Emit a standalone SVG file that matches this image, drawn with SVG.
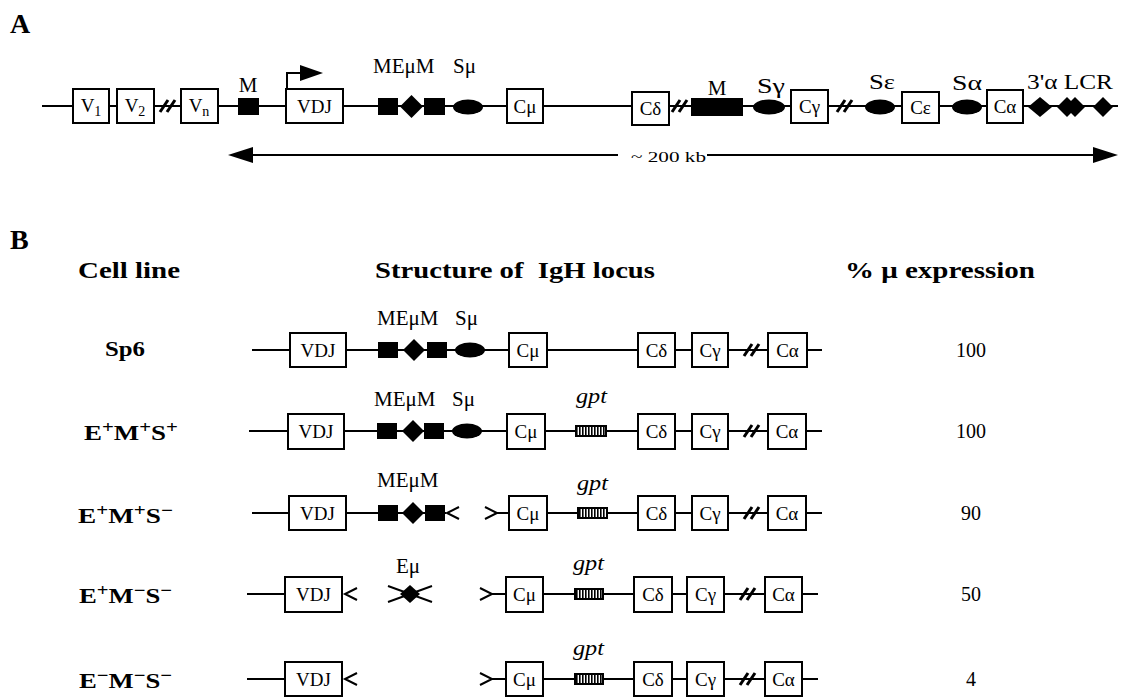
<svg xmlns="http://www.w3.org/2000/svg" width="1126" height="697" viewBox="0 0 1126 697" font-family="'Liberation Serif', 'DejaVu Serif', 'Times New Roman', serif">
  <style>
    text { font-family: 'Liberation Serif', 'DejaVu Serif', 'Times New Roman', serif; fill: #000; }
    .panel { font-size: 28px; font-weight: bold; }
    .head { font-size: 24px; font-weight: bold; }
    .lbl { font-size: 21px; }
    .box-t { font-size: 19px; text-anchor: middle; }
    .cell { font-size: 22px; font-weight: bold; }
    .pct { font-size: 20px; text-anchor: middle; }
    .gpt { font-size: 22px; font-style: italic; }
    .small { font-size: 15px; }
    .dna { stroke: #000; stroke-width: 2; fill: none; }
    .box { fill: #fff; stroke: #000; stroke-width: 2; }
    .solid { fill: #000; stroke: none; }
    .brk { stroke: #000; stroke-width: 3; }
    .end { stroke: #000; stroke-width: 2; fill: none; }
    .hatch { fill: url(#stripes); stroke: #000; stroke-width: 2; }
  </style>
  <defs>
    <pattern id="stripes" width="3" height="10" patternUnits="userSpaceOnUse">
      <rect width="3" height="10" fill="#fff"/>
      <rect width="1.6" height="10" fill="#000"/>
    </pattern>
    <!-- "//" break in the locus -->
    <g id="break">
      <line class="brk" x1="0" y1="6" x2="8" y2="-6"/>
      <line class="brk" x1="7" y1="6" x2="15" y2="-6"/>
    </g>
  </defs>

  <!-- ===== Panel A: germline IgH locus ===== -->
  <text class="panel" x="10" y="33">A</text>

  <g id="connectors">
    <line class="dna" x1="42" y1="106" x2="1118" y2="106"/>
    <!-- ~200 kb span -->
    <line class="dna" x1="245" y1="155" x2="618" y2="155"/>
    <line class="dna" x1="707" y1="155" x2="1100" y2="155"/>
    <polygon class="solid" points="228,155 253,147 253,163"/>
    <polygon class="solid" points="1118,155 1093,147 1093,163"/>
    <!-- transcription start -->
    <polyline class="dna" points="287,89 287,73 302,73"/>
    <polygon class="solid" points="300,65 323,73 300,81"/>
  </g>
  <text class="small" x="631" y="162" textLength="75" lengthAdjust="spacingAndGlyphs">~ 200 kb</text>

  <g id="a-V1"><rect class="box" x="73" y="89" width="36" height="34"/><text class="box-t" x="91" y="112">V<tspan font-size="14" dy="4">1</tspan></text></g>
  <g id="a-V2"><rect class="box" x="117" y="89" width="37" height="34"/><text class="box-t" x="135" y="112">V<tspan font-size="14" dy="4">2</tspan></text></g>
  <use href="#break" x="160" y="106"/>
  <g id="a-Vn"><rect class="box" x="181" y="89" width="37" height="34"/><text class="box-t" x="199" y="112">V<tspan font-size="14" dy="4">n</tspan></text></g>
  <g id="a-M1"><rect class="solid" x="238" y="98" width="21" height="17"/><text class="lbl" x="248" y="92" text-anchor="middle">M</text></g>
  <g id="a-VDJ"><rect class="box" x="286" y="89" width="57" height="34"/><text class="box-t" x="314.5" y="113" font-size="20">VDJ</text></g>
  <g id="a-MEuM">
    <rect class="solid" x="378" y="98" width="20" height="17"/>
    <polygon class="solid" points="400,106.5 411.5,95 423,106.5 411.5,118"/>
    <rect class="solid" x="424" y="98" width="21" height="17"/>
    <text class="lbl" x="373" y="73">MEμM</text>
  </g>
  <g id="a-Smu"><ellipse class="solid" cx="468" cy="107" rx="15" ry="7.5"/><text class="lbl" x="453" y="73">Sμ</text></g>
  <g id="a-Cmu"><rect class="box" x="507" y="89" width="36" height="34"/><text class="box-t" x="525" y="113">Cμ</text></g>
  <g id="a-Cdelta"><rect class="box" x="632" y="92" width="37" height="33"/><text class="box-t" x="650.5" y="115">Cδ</text></g>
  <use href="#break" x="672" y="106"/>
  <g id="a-M2"><rect class="solid" x="691" y="98" width="52" height="18"/><text class="lbl" x="717" y="95" text-anchor="middle">M</text></g>
  <g id="a-Sgamma"><ellipse class="solid" cx="769" cy="107" rx="16" ry="7.5"/><text class="lbl" x="757" y="93" textLength="28" lengthAdjust="spacingAndGlyphs">Sγ</text></g>
  <g id="a-Cgamma"><rect class="box" x="791" y="90" width="37" height="33"/><text class="box-t" x="809.5" y="113">Cγ</text></g>
  <use href="#break" x="837" y="106"/>
  <g id="a-Seps"><ellipse class="solid" cx="880" cy="107" rx="15" ry="7.5"/><text class="lbl" x="869" y="89" textLength="26" lengthAdjust="spacingAndGlyphs">Sε</text></g>
  <g id="a-Ceps"><rect class="box" x="902" y="92" width="37" height="31"/><text class="box-t" x="920.5" y="114">Cε</text></g>
  <g id="a-Salpha"><ellipse class="solid" cx="967" cy="107" rx="15" ry="7.5"/><text class="lbl" x="952" y="90" textLength="30" lengthAdjust="spacingAndGlyphs">Sα</text></g>
  <g id="a-Calpha"><rect class="box" x="987" y="90" width="36" height="33"/><text class="box-t" x="1005" y="113">Cα</text></g>
  <g id="a-LCR">
    <polygon class="solid" points="1028,107 1040,97 1052,107 1040,117"/>
    <polygon class="solid" points="1057,107 1067,97 1077,107 1067,117"/>
    <polygon class="solid" points="1065,107 1075,97 1085,107 1075,117"/>
    <polygon class="solid" points="1093,107 1103,97 1113,107 1103,117"/>
    <text class="lbl" x="1027" y="89" textLength="86" lengthAdjust="spacingAndGlyphs">3'α LCR</text>
  </g>

  <!-- ===== Panel B: targeted alleles ===== -->
  <text class="panel" x="10" y="249">B</text>
  <text class="head" x="78" y="278" textLength="102" lengthAdjust="spacingAndGlyphs">Cell line</text>
  <text class="head" x="375" y="278" xml:space="preserve" textLength="280" lengthAdjust="spacingAndGlyphs">Structure of  IgH locus</text>
  <text class="head" x="845" y="278" textLength="190" lengthAdjust="spacingAndGlyphs">% μ expression</text>

  <!-- Sp6 -->
  <g id="row-Sp6">
    <line class="dna" x1="252" y1="350" x2="822" y2="350"/>
    <text class="cell" x="105" y="356" textLength="40" lengthAdjust="spacingAndGlyphs">Sp6</text>
    <rect class="box" x="290" y="333" width="56" height="34"/><text class="box-t" x="318" y="357" font-size="20">VDJ</text>
    <rect class="solid" x="378" y="342" width="20" height="16"/>
    <polygon class="solid" points="403,350 414,339 425,350 414,361"/>
    <rect class="solid" x="427" y="342" width="20" height="16"/>
    <ellipse class="solid" cx="470" cy="350" rx="15" ry="7.5"/>
    <text class="lbl" x="377" y="325">MEμM</text><text class="lbl" x="455" y="325">Sμ</text>
    <rect class="box" x="509" y="333" width="38" height="34"/><text class="box-t" x="528" y="357">Cμ</text>
    <rect class="box" x="638" y="333" width="37" height="34"/><text class="box-t" x="656.5" y="357">Cδ</text>
    <rect class="box" x="692" y="333" width="36" height="34"/><text class="box-t" x="710" y="357">Cγ</text>
    <use href="#break" x="744" y="350"/>
    <rect class="box" x="768" y="333" width="39" height="34"/><text class="box-t" x="787.5" y="357">Cα</text>
    <text class="pct" x="971" y="357">100</text>
  </g>

  <!-- E+M+S+ -->
  <g id="row-EMS-ppp">
    <line class="dna" x1="249" y1="431" x2="822" y2="431"/>
    <text class="cell" x="84" y="440" textLength="94" lengthAdjust="spacingAndGlyphs">E<tspan font-size="17" dy="-7">+</tspan><tspan dy="7">M</tspan><tspan font-size="17" dy="-7">+</tspan><tspan dy="7">S</tspan><tspan font-size="17" dy="-7">+</tspan></text>
    <rect class="box" x="288" y="414" width="56" height="35"/><text class="box-t" x="316" y="438" font-size="20">VDJ</text>
    <rect class="solid" x="377" y="423" width="20" height="16"/>
    <polygon class="solid" points="402,431 413,420 424,431 413,442"/>
    <rect class="solid" x="424" y="423" width="20" height="16"/>
    <ellipse class="solid" cx="467" cy="431" rx="15" ry="7.5"/>
    <text class="lbl" x="374" y="406">MEμM</text><text class="lbl" x="452" y="406">Sμ</text>
    <rect class="box" x="507" y="414" width="38" height="35"/><text class="box-t" x="526" y="438">Cμ</text>
    <rect class="hatch" x="576" y="426" width="30" height="10"/>
    <text class="gpt" x="576" y="403" textLength="31" lengthAdjust="spacingAndGlyphs">gpt</text>
    <rect class="box" x="638" y="414" width="37" height="35"/><text class="box-t" x="656.5" y="438">Cδ</text>
    <rect class="box" x="692" y="414" width="36" height="35"/><text class="box-t" x="710" y="438">Cγ</text>
    <use href="#break" x="744" y="431"/>
    <rect class="box" x="768" y="414" width="38" height="35"/><text class="box-t" x="787" y="438">Cα</text>
    <text class="pct" x="971" y="438">100</text>
  </g>

  <!-- E+M+S- -->
  <g id="row-EMS-ppm">
    <line class="dna" x1="252" y1="513" x2="446" y2="513"/>
    <line class="dna" x1="496" y1="513" x2="822" y2="513"/>
    <text class="cell" x="78" y="523" textLength="95" lengthAdjust="spacingAndGlyphs">E<tspan font-size="17" dy="-7">+</tspan><tspan dy="7">M</tspan><tspan font-size="17" dy="-7">+</tspan><tspan dy="7">S</tspan><tspan font-size="17" dy="-7">−</tspan></text>
    <rect class="box" x="289" y="496" width="57" height="34"/><text class="box-t" x="317.5" y="520" font-size="20">VDJ</text>
    <rect class="solid" x="378" y="505" width="20" height="16"/>
    <polygon class="solid" points="402,513 413,502 424,513 413,524"/>
    <rect class="solid" x="425" y="505" width="20" height="16"/>
    <polyline class="end" points="459,507 447,513 459,519"/>
    <polyline class="end" points="485,507 497,513 485,519"/>
    <text class="lbl" x="377" y="487">MEμM</text>
    <rect class="box" x="509" y="496" width="38" height="34"/><text class="box-t" x="528" y="520">Cμ</text>
    <rect class="hatch" x="578" y="508" width="29" height="10"/>
    <text class="gpt" x="577" y="490" textLength="31" lengthAdjust="spacingAndGlyphs">gpt</text>
    <rect class="box" x="638" y="496" width="37" height="34"/><text class="box-t" x="656.5" y="520">Cδ</text>
    <rect class="box" x="692" y="496" width="36" height="34"/><text class="box-t" x="710" y="520">Cγ</text>
    <use href="#break" x="744" y="513"/>
    <rect class="box" x="768" y="496" width="38" height="34"/><text class="box-t" x="787" y="520">Cα</text>
    <text class="pct" x="971" y="520">90</text>
  </g>

  <!-- E+M-S- -->
  <g id="row-EMS-pmm">
    <line class="dna" x1="247" y1="594" x2="343" y2="594"/>
    <line class="dna" x1="492" y1="594" x2="818" y2="594"/>
    <text class="cell" x="79" y="603" textLength="93" lengthAdjust="spacingAndGlyphs">E<tspan font-size="17" dy="-7">+</tspan><tspan dy="7">M</tspan><tspan font-size="17" dy="-7">−</tspan><tspan dy="7">S</tspan><tspan font-size="17" dy="-7">−</tspan></text>
    <rect class="box" x="285" y="577" width="57" height="35"/><text class="box-t" x="313.5" y="601" font-size="20">VDJ</text>
    <polyline class="end" points="357,588 345,594 357,600"/>
    <line class="end" x1="388" y1="586" x2="432" y2="602"/>
    <line class="end" x1="388" y1="602" x2="432" y2="586"/>
    <polygon class="solid" points="400,594 410,585 420,594 410,603"/>
    <text class="lbl" x="396" y="573">Eμ</text>
    <polyline class="end" points="480,588 492,594 480,600"/>
    <rect class="box" x="506" y="577" width="37" height="35"/><text class="box-t" x="524.5" y="601">Cμ</text>
    <rect class="hatch" x="575" y="589" width="28" height="10"/>
    <text class="gpt" x="573" y="570" textLength="31" lengthAdjust="spacingAndGlyphs">gpt</text>
    <rect class="box" x="634" y="577" width="38" height="35"/><text class="box-t" x="653" y="601">Cδ</text>
    <rect class="box" x="687" y="577" width="37" height="35"/><text class="box-t" x="705.5" y="601">Cγ</text>
    <use href="#break" x="740" y="594"/>
    <rect class="box" x="765" y="577" width="37" height="35"/><text class="box-t" x="783.5" y="601">Cα</text>
    <text class="pct" x="971" y="601">50</text>
  </g>

  <!-- E-M-S- -->
  <g id="row-EMS-mmm">
    <line class="dna" x1="247" y1="679" x2="343" y2="679"/>
    <line class="dna" x1="492" y1="679" x2="818" y2="679"/>
    <text class="cell" x="79" y="688" textLength="93" lengthAdjust="spacingAndGlyphs">E<tspan font-size="17" dy="-7">−</tspan><tspan dy="7">M</tspan><tspan font-size="17" dy="-7">−</tspan><tspan dy="7">S</tspan><tspan font-size="17" dy="-7">−</tspan></text>
    <rect class="box" x="285" y="662" width="57" height="34"/><text class="box-t" x="313.5" y="686" font-size="20">VDJ</text>
    <polyline class="end" points="357,673 345,679 357,685"/>
    <polyline class="end" points="480,673 492,679 480,685"/>
    <rect class="box" x="506" y="662" width="37" height="34"/><text class="box-t" x="524.5" y="686">Cμ</text>
    <rect class="hatch" x="575" y="674" width="28" height="10"/>
    <text class="gpt" x="573" y="655" textLength="31" lengthAdjust="spacingAndGlyphs">gpt</text>
    <rect class="box" x="634" y="662" width="38" height="34"/><text class="box-t" x="653" y="686">Cδ</text>
    <rect class="box" x="687" y="662" width="37" height="34"/><text class="box-t" x="705.5" y="686">Cγ</text>
    <use href="#break" x="740" y="679"/>
    <rect class="box" x="765" y="662" width="37" height="34"/><text class="box-t" x="783.5" y="686">Cα</text>
    <text class="pct" x="971" y="686">4</text>
  </g>
</svg>
